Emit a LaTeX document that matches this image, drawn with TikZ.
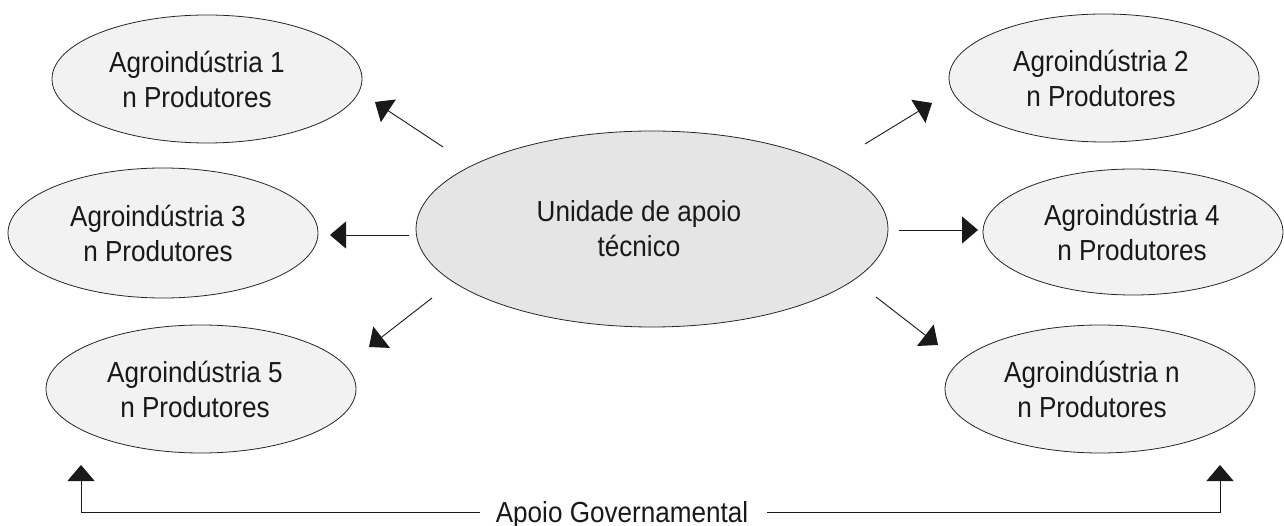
\documentclass[tikz,border=0pt]{standalone}
\usepackage{fontspec}
\setmainfont{Liberation Sans}[FakeStretch=0.9]
\usetikzlibrary{shapes.geometric,arrows.meta}
\begin{document}
\begin{tikzpicture}[x=1pt,y=-1pt,
  agro/.style={ellipse,draw=black!85,line width=0.8pt,fill=black!5,inner sep=0pt,
    minimum width=310pt,minimum height=128pt},
  central/.style={agro,fill=black!10,minimum width=472pt,minimum height=196pt},
  conn/.style={line width=0.9pt,draw=black!90,-{Triangle[length=16pt,width=27pt]}},
  lbl/.style={font=\fontsize{29pt}{35pt}\selectfont,inner sep=0pt,align=center,text=black!90}]
\useasboundingbox (0,0) rectangle (1284,526);
\node[central] (c) at (652,229) {};
\node[agro] (a1) at (207,79) {};
\node[agro] (a2) at (1104,78) {};
\node[agro,minimum height=130pt] (a3) at (163,233) {};
\node[agro,minimum width=300pt,minimum height=126pt] (a4) at (1133,232) {};
\node[agro] (a5) at (201,389) {};
\node[agro] (an) at (1100,389) {};
% texts
\node[lbl] (ct) at ([xshift=-13pt]c.center) {Unidade de apoio\\técnico};
\node[lbl] (a1t) at ([xshift=-10pt]a1.center) {Agroindústria 1\\n Produtores};
\node[lbl] (a2t) at ([xshift=-3pt]a2.center) {Agroindústria 2\\n Produtores};
\node[lbl] (a3t) at ([xshift=-5pt]a3.center) {Agroindústria 3\\n Produtores};
\node[lbl] (a4t) at ([xshift=-1pt]a4.center) {Agroindústria 4\\n Produtores};
\node[lbl] (a5t) at ([xshift=-6pt]a5.center) {Agroindústria 5\\n Produtores};
\node[lbl] (ant) at ([xshift=-8pt]an.center) {Agroindústria n\\n Produtores};
% connector end points
\coordinate (s1) at (443,147); \coordinate (t1) at (375,102);
\coordinate (s3) at (409,235); \coordinate (t3) at (330,235);
\coordinate (s5) at (432,298); \coordinate (t5) at (369,347);
\coordinate (s2) at (865,144); \coordinate (t2) at (932,103);
\coordinate (s4) at (899,230); \coordinate (t4) at (978,230);
\coordinate (sn) at (876,297); \coordinate (tn) at (938,345);
\draw[conn] (s1) -- (t1);
\draw[conn] (s3) -- (t3);
\draw[conn] (s5) -- (t5);
\draw[conn] (s2) -- (t2);
\draw[conn] (s4) -- (t4);
\draw[conn] (sn) -- (tn);
% Apoio Governamental
\node[lbl,anchor=base] (gov) at (622,522) {Apoio Governamental};
\coordinate (gl) at (480,512); \coordinate (gr) at (767,512);
\coordinate (bl) at (81,512); \coordinate (br) at (1220,512);
\coordinate (tl) at (81,465); \coordinate (tr) at (1220,465);
\draw[conn] (gl) -- (bl) -- (tl);
\draw[conn] (gr) -- (br) -- (tr);
\end{tikzpicture}
\end{document}
